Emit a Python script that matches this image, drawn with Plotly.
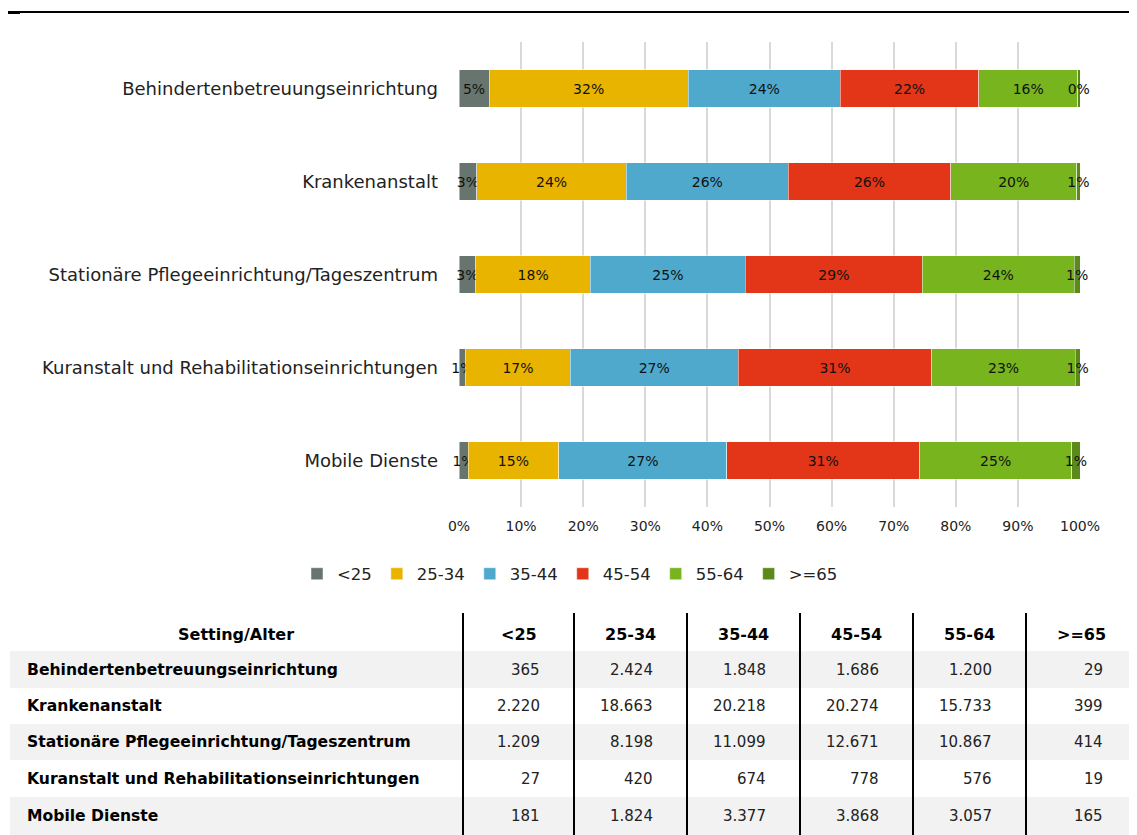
import plotly.graph_objects as go

settings = [
    "Behindertenbetreuungseinrichtung",
    "Krankenanstalt",
    "Stationäre Pflegeeinrichtung/Tageszentrum",
    "Kuranstalt und Rehabilitationseinrichtungen",
    "Mobile Dienste",
]
age_groups = ["<25", "25-34", "35-44", "45-54", "55-64", ">=65"]

cnt_lt25 = [365, 2220, 1209, 27, 181]
cnt_25_34 = [2424, 18663, 8198, 420, 1824]
cnt_35_44 = [1848, 20218, 11099, 674, 3377]
cnt_45_54 = [1686, 20274, 12671, 778, 3868]
cnt_55_64 = [1200, 15733, 10867, 576, 3057]
cnt_ge65 = [29, 399, 414, 19, 165]

series = [cnt_lt25, cnt_25_34, cnt_35_44, cnt_45_54, cnt_55_64, cnt_ge65]
colors = ["#68756e", "#e9b400", "#4fa9cd", "#e33518", "#77b41e", "#5b8a1a"]

FONT = "DejaVu Sans"

totals = [sum(s[i] for s in series) for i in range(len(settings))]

fig = go.Figure()
for name, vals, col in zip(age_groups, series, colors):
    labels = [f"{round(v / t * 100)}%" for v, t in zip(vals, totals)]
    fig.add_trace(go.Bar(
        y=settings, x=vals, name=name, orientation="h",
        marker=dict(color=col, line=dict(color="rgba(255,255,255,0.6)", width=0.8)),
        text=labels, textposition="inside", insidetextanchor="middle",
        textangle=0, constraintext="none", cliponaxis=False,
        insidetextfont=dict(color="#111", size=14, family=FONT),
        hoverinfo="skip",
    ))

OFF = 8  # page body margin
W, H = 1137 - OFF, 835 - OFF
# screen-pixel plot area: x 459..1080, y 42..507
L, R, T, B = 459 - OFF, 1137 - 1080, 42 - OFF, 835 - 507
PW, PH = W - L - R, H - T - B


def px_x(px):
    return (px - OFF - L) / PW


def px_y(py):
    return (H - B - (py - OFF)) / PH


shapes = []
annotations = []

# top rule
shapes.append(dict(type="line", xref="paper", yref="paper", x0=px_x(5), x1=px_x(1137),
                   y0=px_y(12), y1=px_y(12), line=dict(color="black", width=2)))
shapes.append(dict(type="line", xref="paper", yref="paper", x0=px_x(5), x1=px_x(20),
                   y0=px_y(12.5), y1=px_y(12.5), line=dict(color="black", width=3)))

# table
col_edges = [463, 574, 687, 800, 913, 1026, 1137]
header_y = 634
row_bands = [(651, 688), (688, 724), (724, 760), (760, 797), (797, 835)]
for i, (a, b) in enumerate(row_bands):
    if i % 2 == 0:
        shapes.append(dict(type="rect", xref="paper", yref="paper", layer="below",
                           x0=px_x(10), x1=px_x(1137), y0=px_y(b), y1=px_y(a),
                           fillcolor="#f2f2f2", line=dict(width=0)))
for xe in col_edges[:-1]:
    shapes.append(dict(type="line", xref="paper", yref="paper", x0=px_x(xe), x1=px_x(xe),
                       y0=px_y(613), y1=px_y(835), line=dict(color="black", width=2)))

annotations.append(dict(text="<b>Setting/Alter</b>", xref="paper", yref="paper",
                        x=px_x(236), y=px_y(header_y), xanchor="center", yanchor="middle",
                        showarrow=False, font=dict(size=16, family=FONT, color="black")))
for j, g in enumerate(age_groups):
    cx = (col_edges[j] + col_edges[j + 1]) / 2
    annotations.append(dict(text=f"<b>{g}</b>", xref="paper", yref="paper",
                            x=px_x(cx), y=px_y(header_y), xanchor="center", yanchor="middle",
                            showarrow=False, font=dict(size=16, family=FONT, color="black")))
for i, s in enumerate(settings):
    cy = (row_bands[i][0] + row_bands[i][1]) / 2
    annotations.append(dict(text=f"<b>{s}</b>", xref="paper", yref="paper",
                            x=px_x(25), y=px_y(cy), xanchor="left", yanchor="middle",
                            showarrow=False, font=dict(size=15.6, family=FONT, color="black")))
    for j, vals in enumerate(series):
        txt = f"{vals[i]:,}".replace(",", ".")
        annotations.append(dict(text=txt, xref="paper", yref="paper",
                                x=px_x(col_edges[j + 1] - 32), y=px_y(cy),
                                xanchor="right", yanchor="middle", showarrow=False,
                                font=dict(size=15, family=FONT, color="#222")))

fig.update_layout(
    width=W, height=H,
    margin=dict(l=L, r=R, t=T, b=B),
    paper_bgcolor="white", plot_bgcolor="white",
    barmode="stack", barnorm="percent", bargap=0.6,
    font=dict(family=FONT, size=15, color="#222"),
    xaxis=dict(range=[-0.0001, 100.0001], tickvals=list(range(0, 101, 10)),
               ticktext=[f"{v}%" for v in range(0, 101, 10)], showgrid=True,
               gridcolor="#d9d9d9", gridwidth=2, zeroline=False,
               tickfont=dict(size=14, color="#222"), ticks="", showline=False,
               ticklabelstandoff=9, fixedrange=True),
    yaxis=dict(autorange="reversed", showgrid=False, ticks="", showline=False,
               tickfont=dict(size=18, color="#222"), ticklabelstandoff=20),
    legend=dict(orientation="h", x=px_x(297), xanchor="left", y=px_y(574), yanchor="middle",
                font=dict(size=16.5, color="#222"), traceorder="normal", itemwidth=30),
    shapes=shapes, annotations=annotations,
    showlegend=True,
)

fig.write_html("out.html")
